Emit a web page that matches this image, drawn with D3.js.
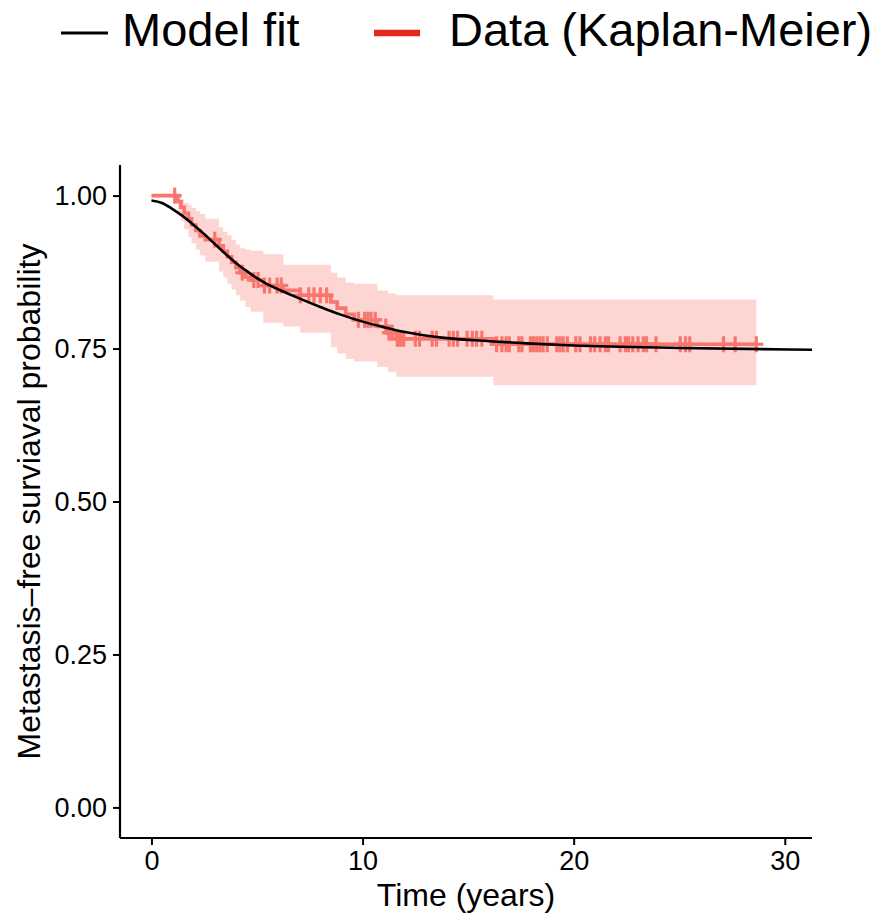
<!DOCTYPE html>
<html>
<head>
<meta charset="utf-8">
<script src="https://cdn.jsdelivr.net/npm/d3@7"></script>
<style>
  html, body { margin: 0; padding: 0; background: #fff; }
  svg { display: block; font-family: "Liberation Sans", Arial, Helvetica, sans-serif; }
</style>
</head>
<body>
<svg id="chart" width="882" height="916"></svg>
<script>
// ---- Data ----
// Kaplan-Meier step events: time (years), survival, CI upper, CI lower
const kmTime  = [0, 1.25, 1.4, 1.55, 1.75, 1.9, 2.1, 2.3, 2.55, 3.2, 3.4, 3.6, 3.8, 4.0, 4.2, 4.45, 4.7, 5.3, 6.25, 7.05, 8.5, 8.8, 9.2, 9.6, 10.7, 11.2, 11.6, 16.2];
const kmSurv  = [1, 0.990, 0.981, 0.971, 0.962, 0.952, 0.943, 0.934, 0.928, 0.918, 0.909, 0.900, 0.891, 0.882, 0.874, 0.867, 0.862, 0.853, 0.845, 0.837, 0.826, 0.816, 0.806, 0.797, 0.786, 0.776, 0.766, 0.757];
const kmUpper = [1, 0.997, 0.994, 0.988, 0.985, 0.980, 0.975, 0.970, 0.962, 0.948, 0.941, 0.935, 0.928, 0.920, 0.914, 0.912, 0.910, 0.904, 0.887, 0.887, 0.874, 0.866, 0.858, 0.856, 0.845, 0.840, 0.837, 0.830];
const kmLower = [1, 0.972, 0.958, 0.945, 0.932, 0.922, 0.912, 0.902, 0.892, 0.876, 0.866, 0.856, 0.846, 0.837, 0.828, 0.818, 0.810, 0.792, 0.786, 0.776, 0.752, 0.742, 0.733, 0.729, 0.720, 0.712, 0.704, 0.690];
const kmEnd = 28.65;
// Censoring times (years)
const censorTimes = [1.1, 3.0, 4.3, 4.85, 5.05, 5.35, 5.6, 5.95, 6.15, 7.05, 7.45, 7.7, 8.0, 8.3, 9.8, 10.1, 10.25, 10.4, 10.6, 11.1, 11.25, 11.4, 11.65, 11.8, 11.95, 12.5, 12.7, 13.3, 13.5, 14.1, 14.3, 14.5, 14.95, 15.2, 15.4, 15.65, 16.35, 16.6, 16.8, 16.95, 17.4, 17.55, 17.95, 18.1, 18.25, 18.4, 18.55, 18.75, 19.2, 19.35, 19.5, 19.7, 20.1, 20.3, 20.8, 21.0, 21.25, 21.5, 21.65, 22.2, 22.45, 22.6, 22.8, 23.05, 23.3, 23.45, 23.9, 25.05, 25.3, 25.5, 27.1, 27.65, 28.65];
// Model fit curve
const fitTime = [0, 0.5, 1, 1.5, 2, 2.5, 3, 3.5, 4, 4.5, 5, 5.5, 6, 7, 8, 9, 10, 11, 12, 14, 16, 18, 20, 25, 31.29];
const fitSurv = [0.992, 0.988, 0.978, 0.966, 0.952, 0.937, 0.921, 0.905, 0.890, 0.877, 0.865, 0.855, 0.847, 0.832, 0.818, 0.805, 0.794, 0.785, 0.777, 0.767, 0.762, 0.758, 0.755, 0.751, 0.748];
// Axis ticks and labels
const xTicks = [0, 10, 20, 30];
const yTicks = [0, 0.25, 0.5, 0.75, 1.0];
const legendLabels = ["Model fit", "Data (Kaplan-Meier)"];
const xTitle = "Time (years)";
const yTitle = "Metastasis\u2013free surviaval probability";

// ---- Layout ----
const svg = d3.select("#chart");
const pL = 120, pR = 812, pT = 165, pB = 838;
const x = d3.scaleLinear().domain([-1.49, 31.29]).range([pL, pR]);
const y = d3.scaleLinear().domain([-0.05, 1.05]).range([pB, pT]);

const kmColor = "#F8766D";

// step data
const steps = kmTime.map((t, i) => ({t, s: kmSurv[i], u: kmUpper[i], l: kmLower[i]}));
steps.push({t: kmEnd, s: kmSurv[kmSurv.length-1], u: kmUpper[kmUpper.length-1], l: kmLower[kmLower.length-1]});

svg.append("defs").append("clipPath").attr("id", "panel")
  .append("rect").attr("x", pL).attr("y", pT).attr("width", pR-pL).attr("height", pB-pT);

const panel = svg.append("g").attr("clip-path", "url(#panel)");

// CI ribbon
panel.append("path")
  .datum(steps)
  .attr("d", d3.area().curve(d3.curveStepAfter).x(d => x(d.t)).y0(d => y(d.l)).y1(d => y(d.u)))
  .attr("fill", kmColor).attr("fill-opacity", 0.3);

// KM line
panel.append("path")
  .datum(steps)
  .attr("d", d3.line().curve(d3.curveStepAfter).x(d => x(d.t)).y(d => y(d.s)))
  .attr("fill", "none").attr("stroke", kmColor).attr("stroke-width", 3.6);

// censor marks
function survAt(t) {
  let s = kmSurv[0];
  for (let i = 0; i < kmTime.length; i++) if (kmTime[i] <= t) s = kmSurv[i];
  return s;
}
const cg = panel.append("g").attr("stroke", kmColor).attr("stroke-width", 3.2);
censorTimes.forEach(t => {
  const cx = x(t), cy = y(survAt(t));
  cg.append("line").attr("x1", cx).attr("x2", cx).attr("y1", cy - 8).attr("y2", cy + 8);
  cg.append("line").attr("x1", cx - 7).attr("x2", cx + 7).attr("y1", cy).attr("y2", cy);
});

// model fit
panel.append("path")
  .datum(fitTime.map((t, i) => ({t, s: fitSurv[i]})))
  .attr("d", d3.line().curve(d3.curveMonotoneX).x(d => x(d.t)).y(d => y(d.s)))
  .attr("fill", "none").attr("stroke", "#000").attr("stroke-width", 2.6);

// axes
const xAxis = svg.append("g").attr("transform", `translate(0,${pB})`)
  .call(d3.axisBottom(x).tickValues(xTicks).tickFormat(d3.format("d")).tickSizeOuter(0).tickSize(7).tickPadding(6));
const yAxis = svg.append("g").attr("transform", `translate(${pL},0)`)
  .call(d3.axisLeft(y).tickValues(yTicks).tickFormat(d3.format(".2f")).tickSizeOuter(0).tickSize(7).tickPadding(6));
[xAxis, yAxis].forEach(a => {
  a.select(".domain").attr("stroke", "#000").attr("stroke-width", 2.2);
  a.selectAll(".tick line").attr("stroke", "#000").attr("stroke-width", 2);
  a.selectAll(".tick text").attr("fill", "#000").attr("font-size", 27)
    .attr("font-family", "'Liberation Sans', Arial, Helvetica, sans-serif");
});
xAxis.select(".domain").attr("d", `M${pL},0H${pR}`);
yAxis.select(".domain").attr("d", `M0,${pT}V${pB}`);

// axis titles
svg.append("text").attr("x", (pL + pR) / 2).attr("y", 906)
  .attr("text-anchor", "middle").attr("font-size", 32).attr("fill", "#000").text(xTitle);
svg.append("text").attr("transform", `translate(40,${(pT + pB) / 2}) rotate(-90)`)
  .attr("text-anchor", "middle").attr("font-size", 32).attr("fill", "#000").text(yTitle);

// legend
const lg = svg.append("g");
lg.append("line").attr("x1", 61).attr("x2", 108).attr("y1", 33).attr("y2", 33)
  .attr("stroke", "#000").attr("stroke-width", 3.2);
lg.append("text").attr("x", 122).attr("y", 46).attr("font-size", 47).attr("fill", "#000").text(legendLabels[0]);
lg.append("line").attr("x1", 374).attr("x2", 420).attr("y1", 33).attr("y2", 33)
  .attr("stroke", "#E3281E").attr("stroke-width", 6.5);
lg.append("text").attr("x", 449).attr("y", 46).attr("font-size", 47).attr("fill", "#000").text(legendLabels[1]);
</script>
</body>
</html>
